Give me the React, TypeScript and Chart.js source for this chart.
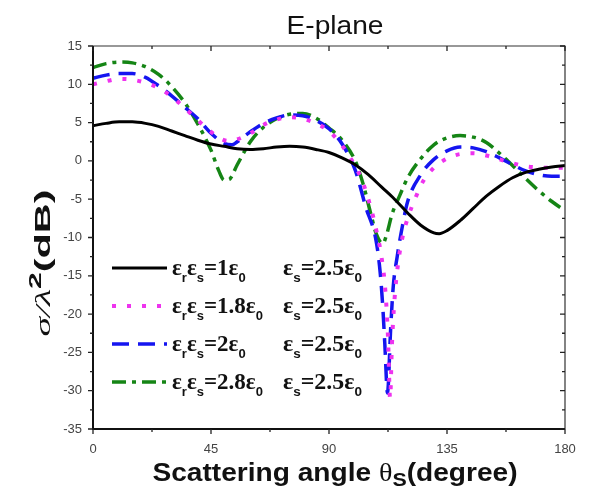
import React, { useEffect, useRef } from "react";
import { Chart, registerables } from "chart.js";

Chart.register(...registerables);

// ---- data (angle in degrees, sigma/lambda^2 in dB) ----
const thetaBlack = [0, 5, 10, 15, 20, 25, 30, 35, 40, 45, 50, 55, 60, 65, 70, 75, 80, 85, 90, 95, 100, 105, 110, 115, 120, 125, 130, 132, 135, 140, 145, 150, 155, 160, 165, 170, 175, 180];
const sigmaBlack = [4.6, 4.9, 5.1, 5.1, 4.9, 4.5, 3.9, 3.3, 2.7, 2.2, 1.9, 1.6, 1.5, 1.6, 1.8, 1.9, 1.8, 1.5, 1.1, 0.4, -0.5, -1.8, -3.4, -5.0, -6.8, -8.4, -9.4, -9.5, -9.1, -7.8, -6.2, -4.6, -3.3, -2.2, -1.5, -1.1, -0.8, -0.6];

const thetaMagenta = [0, 5, 10, 15, 20, 25, 30, 35, 40, 45, 50, 53, 55, 60, 65, 70, 75, 80, 85, 90, 95, 100, 103, 106, 108, 110, 111.5, 112.5, 113.3, 114, 115, 116.5, 118, 120, 123, 126, 130, 135, 140, 145, 150, 155, 160, 165, 170, 175, 180];
const sigmaMagenta = [10.0, 10.4, 10.7, 10.6, 10.2, 9.5, 8.4, 6.9, 5.3, 3.8, 2.7, 2.6, 2.8, 3.6, 4.7, 5.4, 5.7, 5.5, 4.9, 3.9, 2.0, -0.7, -2.9, -6.2, -9.0, -12.5, -17, -23, -31, -24, -18, -13, -10, -7.5, -4.8, -2.6, -0.9, 0.3, 0.9, 1.0, 0.7, 0.2, -0.3, -0.7, -0.85, -0.9, -0.9];

const thetaBlue = [0, 5, 10, 15, 20, 25, 30, 35, 40, 45, 50, 53, 55, 60, 65, 70, 75, 80, 85, 90, 95, 100, 104, 108, 109.5, 110.5, 111.3, 112.3, 113.5, 114.5, 116, 118, 120, 125, 130, 135, 140, 145, 150, 155, 160, 165, 170, 175, 180];
const sigmaBlue = [10.8, 11.2, 11.4, 11.4, 10.9, 9.8, 8.5, 7.0, 5.5, 3.6, 2.3, 2.1, 2.5, 3.8, 4.9, 5.6, 6.0, 5.9, 5.3, 4.2, 2.2, -1.2, -6.0, -10.5, -14.5, -19, -24, -30.3, -22, -16.4, -12.5, -8.5, -5.3, -1.8, 0.2, 1.3, 1.8, 1.7, 1.2, 0.4, -0.5, -1.3, -1.8, -2.0, -2.0];

const thetaGreen = [0, 5, 10, 15, 20, 25, 30, 35, 40, 45, 48, 50, 52, 55, 60, 65, 70, 75, 80, 85, 90, 95, 100, 103, 106, 108, 110.5, 112, 114, 117, 120, 125, 130, 135, 140, 145, 150, 155, 160, 165, 170, 175, 180];
const sigmaGreen = [12.2, 12.7, 12.9, 12.8, 12.3, 11.3, 9.7, 7.6, 4.8, 1.4, -1.3, -2.5, -2.4, -0.5, 2.5, 4.4, 5.5, 6.1, 6.2, 5.6, 4.3, 2.7, 0.0, -3.0, -7.0, -9.5, -10.8, -9.6, -7.0, -4.5, -2.2, 0.3, 2.1, 3.0, 3.3, 3.1, 2.4, 1.0, -0.6, -2.3, -3.9, -5.3, -6.5];

const xTickValues = [0, 45, 90, 135, 180];
const yTickValues = [-35, -30, -25, -20, -15, -10, -5, 0, 5, 10, 15];

const ratioLabels = ["1", "1.8", "2", "2.8"]; // εrεs = value·ε0
const epsSLabel = "2.5"; // εs = 2.5ε0

const titleText = "E-plane";
const xTitleMain = "Scattering angle ";
const xTitleTheta = "θ";
const xTitleSub = "S";
const xTitleTail = "(degree)";
const yTitleSigma = "σ/λ";
const yTitleSup = "2";
const yTitleTail = "(dB)";

const seriesStyles = [
  { color: "#000000", width: 3, dash: [] as number[] },
  { color: "#ee33ee", width: 4, dash: [4, 11] },
  { color: "#1515f0", width: 3.5, dash: [17, 9] },
  { color: "#158515", width: 3.5, dash: [14, 6, 4, 6] },
];

const toPts = (xs: number[], ys: number[]) => xs.map((x, i) => ({ x, y: ys[i] }));

type Seg = { t: string; font: string; dy?: number };

// draws a run of text pieces; if targetW is given, the run is stretched horizontally to that width
function drawSegs(
  ctx: CanvasRenderingContext2D,
  segs: Seg[],
  x: number,
  y: number,
  align: "left" | "center" = "left",
  targetW?: number
) {
  let total = 0;
  for (const s of segs) {
    ctx.font = s.font;
    total += ctx.measureText(s.t).width;
  }
  const sx = targetW ? targetW / total : 1;
  ctx.save();
  ctx.translate(x, y);
  ctx.scale(sx, 1);
  let cx = align === "center" ? -total / 2 : 0;
  ctx.textAlign = "left";
  for (const s of segs) {
    ctx.font = s.font;
    ctx.fillText(s.t, cx, s.dy || 0);
    cx += ctx.measureText(s.t).width;
  }
  ctx.restore();
}

const decorPlugin = {
  id: "decor",
  afterDraw(chart: any) {
    const { ctx, chartArea } = chart;
    const xs = chart.scales.x;
    const ys = chart.scales.y;
    const { left, right, top, bottom } = chartArea;
    ctx.save();

    // frame
    ctx.strokeStyle = "#333";
    ctx.lineWidth = 1.2;
    ctx.beginPath();
    ctx.moveTo(left, top);
    ctx.lineTo(right, top);
    ctx.lineTo(right, bottom);
    ctx.stroke();
    ctx.strokeStyle = "#111";
    ctx.lineWidth = 2;
    ctx.beginPath();
    ctx.moveTo(left, top);
    ctx.lineTo(left, bottom);
    ctx.lineTo(right, bottom);
    ctx.stroke();

    // ticks
    ctx.lineWidth = 1.3;
    ctx.strokeStyle = "#222";
    const xMajor = xTickValues;
    const xMinor = xMajor.slice(0, -1).map((v, i) => (v + xMajor[i + 1]) / 2);
    const yMajor = yTickValues;
    const yMinor = yMajor.slice(0, -1).map((v, i) => (v + yMajor[i + 1]) / 2);
    ctx.beginPath();
    const xt = (vals: number[], len: number) => {
      for (const v of vals) {
        const px = xs.getPixelForValue(v);
        ctx.moveTo(px, bottom);
        ctx.lineTo(px, bottom + len);
        ctx.moveTo(px, top);
        ctx.lineTo(px, top + len);
      }
    };
    const yt = (vals: number[], len: number) => {
      for (const v of vals) {
        const py = ys.getPixelForValue(v);
        ctx.moveTo(left, py);
        ctx.lineTo(left - len, py);
        ctx.moveTo(right, py);
        ctx.lineTo(right - len, py);
      }
    };
    xt(xMajor, 5);
    xt(xMinor, 3);
    yt(yMajor, 5);
    yt(yMinor, 3);
    ctx.stroke();

    ctx.fillStyle = "#111";
    ctx.textBaseline = "alphabetic";
    const bold = (n: number) => `bold ${n}px 'Liberation Sans', Arial, sans-serif`;
    const serifB = (n: number) => `bold ${n}px 'Liberation Serif', 'Times New Roman', serif`;

    // title
    drawSegs(ctx, [{ t: titleText, font: "26px 'Liberation Sans', Arial, sans-serif" }], 335, 34, "center", 97);

    // x title
    drawSegs(
      ctx,
      [
        { t: xTitleMain, font: bold(25) },
        { t: xTitleTheta, font: `25px 'Liberation Serif', serif` },
        { t: xTitleSub, font: bold(19), dy: 5 },
        { t: xTitleTail, font: bold(25) },
      ],
      335,
      481,
      "center",
      365
    );

    // y title (rotated, stretched along its length)
    ctx.save();
    ctx.translate(50, 263);
    ctx.rotate(-Math.PI / 2);
    drawSegs(
      ctx,
      [
        { t: yTitleSigma, font: `italic 21px 'Liberation Serif', serif` },
        { t: yTitleSup, font: bold(16), dy: -9 },
        { t: yTitleTail, font: bold(22) },
      ],
      0,
      0,
      "center",
      147
    );
    ctx.restore();

    // legend
    const rowY = [268, 306, 344, 382];
    ratioLabels.forEach((r, i) => {
      const st = seriesStyles[i];
      const y = rowY[i];
      ctx.save();
      ctx.strokeStyle = st.color;
      ctx.lineWidth = st.width;
      ctx.setLineDash(st.dash);
      ctx.beginPath();
      ctx.moveTo(112, y);
      ctx.lineTo(167, y);
      ctx.stroke();
      ctx.restore();
      ctx.fillStyle = "#111";
      const big = serifB(23);
      const sub = bold(13);
      const c1: Seg[] = [
        { t: "ε", font: big },
        { t: "r", font: sub, dy: 7 },
        { t: "ε", font: big },
        { t: "s", font: sub, dy: 7 },
        { t: "=" + r, font: big },
        { t: "ε", font: big },
        { t: "0", font: sub, dy: 7 },
      ];
      drawSegs(ctx, c1, 172, y + 7, "left");
      const c2: Seg[] = [
        { t: "ε", font: big },
        { t: "s", font: sub, dy: 7 },
        { t: "=" + epsSLabel, font: big },
        { t: "ε", font: big },
        { t: "0", font: sub, dy: 7 },
      ];
      drawSegs(ctx, c2, 283, y + 7, "left", 79);
    });

    ctx.restore();
  },
};

export default function App() {
  const ref = useRef<HTMLCanvasElement | null>(null);
  useEffect(() => {
    if (!ref.current) return;
    const series = [
      toPts(thetaBlack, sigmaBlack),
      toPts(thetaMagenta, sigmaMagenta),
      toPts(thetaBlue, sigmaBlue),
      toPts(thetaGreen, sigmaGreen),
    ];
    const chart = new Chart(ref.current, {
      type: "line",
      data: {
        datasets: series.map((d, i) => ({
          label: "s" + i,
          data: d,
          borderColor: seriesStyles[i].color,
          borderWidth: seriesStyles[i].width,
          borderDash: seriesStyles[i].dash,
          borderCapStyle: "butt",
          pointRadius: 0,
          fill: false,
          cubicInterpolationMode: "monotone",
        })) as any,
      },
      options: {
        animation: false,
        responsive: false,
        events: [],
        layout: { padding: { left: 0, right: 29, top: 46, bottom: 32 } },
        plugins: { legend: { display: false }, tooltip: { enabled: false }, title: { display: false } },
        scales: {
          x: {
            type: "linear",
            min: 0,
            max: 180,
            grid: { display: false },
            border: { display: false },
            afterBuildTicks: (s: any) => {
              s.ticks = xTickValues.map((v) => ({ value: v }));
            },
            afterFit: (s: any) => {
              s.height = 30;
            },
            ticks: {
              padding: 5,
              color: "#444",
              font: { family: "'Liberation Sans', Arial, sans-serif", size: 13 },
              maxRotation: 0,
            },
          },
          y: {
            type: "linear",
            min: -35,
            max: 15,
            grid: { display: false },
            border: { display: false },
            afterBuildTicks: (s: any) => {
              s.ticks = yTickValues.map((v) => ({ value: v }));
            },
            afterFit: (s: any) => {
              s.width = 93;
            },
            ticks: {
              padding: 3,
              color: "#444",
              font: { family: "'Liberation Sans', Arial, sans-serif", size: 13 },
            },
          },
        },
      },
      plugins: [decorPlugin],
    });
    return () => chart.destroy();
  }, []);
  return (
    <div style={{ position: "absolute", left: 0, top: 0, width: 594, height: 491, background: "#fff" }}>
      <canvas ref={ref} width={594} height={491} style={{ display: "block", width: 594, height: 491 }} />
    </div>
  );
}
